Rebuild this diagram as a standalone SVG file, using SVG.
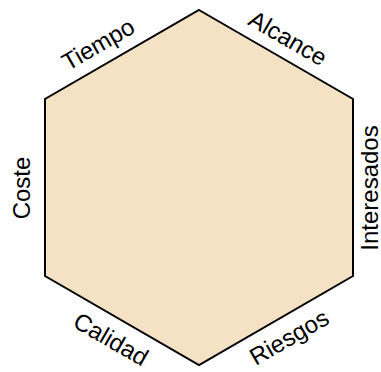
<svg xmlns="http://www.w3.org/2000/svg" width="381" height="372" viewBox="0 0 381 372">
<style>
.lbl{font-family:"Liberation Sans",Arial,sans-serif;font-size:24px;fill:#000;text-anchor:middle;dominant-baseline:central}
</style>
<rect width="381" height="372" fill="#fff"/>
<g id="hexagon">
<polygon points="199,10 353,99 353,276 199,365 45,276 45,99" fill="#F5E1C3" stroke="#000" stroke-width="2" stroke-linejoin="miter"/>
</g>
<g id="labels">
<text class="lbl" transform="translate(98,44) rotate(-30)">Tiempo</text>
<text class="lbl" transform="translate(288,38) rotate(30)">Alcance</text>
<text class="lbl" transform="translate(21,188) rotate(-90)">Coste</text>
<text class="lbl" transform="translate(369,188) rotate(-90)">Interesados</text>
<text class="lbl" transform="translate(111,339) rotate(30)">Calidad</text>
<text class="lbl" transform="translate(289,337) rotate(-30)">Riesgos</text>
</g>
</svg>
